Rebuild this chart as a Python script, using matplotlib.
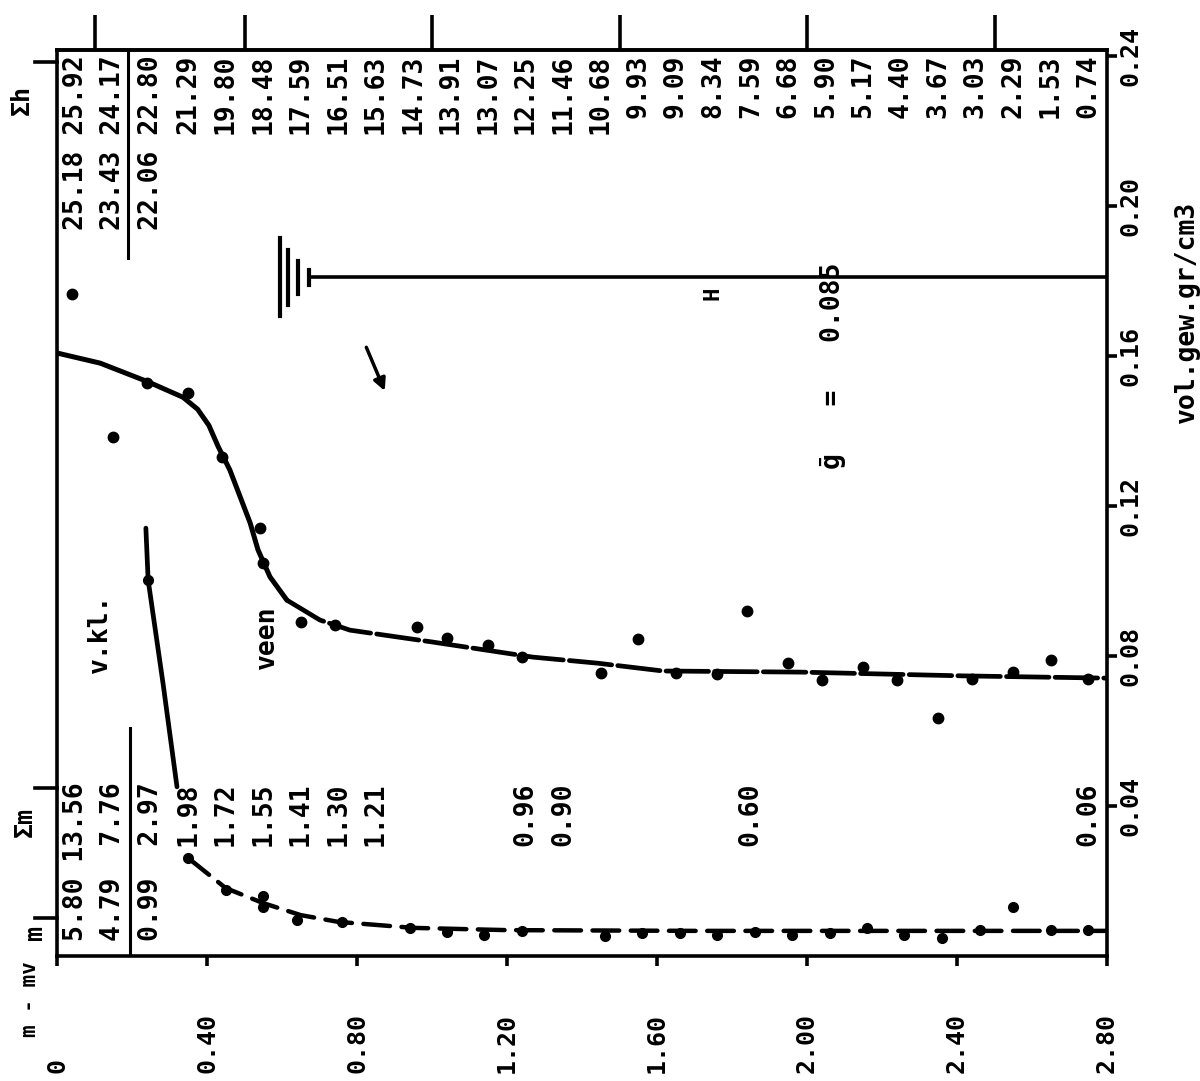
import numpy as np
import matplotlib
matplotlib.use("Agg")
import matplotlib.pyplot as plt

# ---------------- data ----------------
# veen (peat) measured points: depth (m - mv) and vol.gew (gr/cm3)
veen_depth = [0.04, 0.15, 0.24, 0.35, 0.44, 0.54, 0.55, 0.65, 0.74, 0.96, 1.04,
              1.15, 1.24, 1.45, 1.55, 1.65, 1.76, 1.84, 1.95, 2.04, 2.15, 2.24,
              2.35, 2.44, 2.55, 2.65, 2.75]
veen_gew = [0.1765, 0.1384, 0.1528, 0.1501, 0.1331, 0.1141, 0.1048, 0.0891,
            0.0883, 0.0877, 0.0848, 0.0829, 0.0797, 0.0755, 0.0845, 0.0755,
            0.0752, 0.0920, 0.0781, 0.0736, 0.0771, 0.0736, 0.0635, 0.0739,
            0.0757, 0.0789, 0.0739]
# hand-drawn curve through the veen points
veen_fit_depth = [0.0, 0.115, 0.243, 0.336, 0.375, 0.405, 0.430, 0.461, 0.515,
                  0.536, 0.568, 0.613, 0.701, 0.781, 1.003, 1.269, 1.44, 1.616,
                  1.984, 2.416, 2.80]
veen_fit_gew = [0.1608, 0.1581, 0.1531, 0.1490, 0.1458, 0.1415, 0.1358, 0.1296,
                0.1155, 0.1083, 0.1011, 0.0949, 0.0896, 0.0869, 0.0837, 0.0797,
                0.0781, 0.0760, 0.0757, 0.0747, 0.0741]
# v.kl. (clay) line
vkl_depth = [0.237, 0.243, 0.283, 0.320]
vkl_gew = [0.1141, 0.1003, 0.0725, 0.0451]
vkl_pt_depth = [0.243]
vkl_pt_gew = [0.1003]
# mineral part (lower dash-dot curve)
min_depth = [0.35, 0.45, 0.55, 0.55, 0.64, 0.76, 0.94, 1.04, 1.14, 1.24, 1.46,
             1.56, 1.66, 1.76, 1.86, 1.96, 2.06, 2.16, 2.26, 2.36, 2.46, 2.55,
             2.65, 2.75]
min_gew = [0.0261, 0.0176, 0.0160, 0.0131, 0.0096, 0.0091, 0.0075, 0.0064,
           0.0056, 0.0067, 0.0053, 0.0061, 0.0061, 0.0056, 0.0064, 0.0056,
           0.0061, 0.0075, 0.0056, 0.0048, 0.0069, 0.0131, 0.0069, 0.0069]
min_fit_depth = [0.35, 0.45, 0.55, 0.65, 0.75, 0.95, 1.20, 1.70, 2.80]
min_fit_gew = [0.0261, 0.0181, 0.0141, 0.0109, 0.0091, 0.0075, 0.0069, 0.0067, 0.0067]

# table columns (depth of each layer centre)
col_depth = [0.05, 0.15, 0.25, 0.35, 0.45, 0.55, 0.65, 0.75, 0.85, 0.95, 1.05,
             1.15, 1.25, 1.35, 1.45, 1.55, 1.65, 1.75, 1.85, 1.95, 2.05, 2.15,
             2.25, 2.35, 2.45, 2.55, 2.65, 2.75]
sum_h = ["25.92", "24.17", "22.80", "21.29", "19.80", "18.48", "17.59", "16.51",
         "15.63", "14.73", "13.91", "13.07", "12.25", "11.46", "10.68", "9.93",
         "9.09", "8.34", "7.59", "6.68", "5.90", "5.17", "4.40", "3.67", "3.03",
         "2.29", "1.53", "0.74"]
h_vals = ["25.18", "23.43", "22.06"]
sum_m_depth = [0.05, 0.15, 0.25, 0.35, 0.45, 0.55, 0.65, 0.75, 0.85, 1.25, 1.35,
               1.85, 2.75]
sum_m = ["13.56", "7.76", "2.97", "1.98", "1.72", "1.55", "1.41", "1.30", "1.21",
         "0.96", "0.90", "0.60", "0.06"]
m_vals = ["5.80", "4.79", "0.99"]

x_ticks = [0.0, 0.4, 0.8, 1.2, 1.6, 2.0, 2.4, 2.8]
x_ticklabels = ["0", "0.40", "0.80", "1.20", "1.60", "2.00", "2.40", "2.80"]
y_ticks = [0.04, 0.08, 0.12, 0.16, 0.20, 0.24]
y_ticklabels = ["0.04", "0.08", "0.12", "0.16", "0.20", "0.24"]
top_ticks = [0.1, 0.5, 1.0, 1.5, 2.0, 2.5]
left_marks = [0.2384, 0.0448, 0.0101]
left_mark_labels = ["Σh", "Σm", "m"]

mean_text = "ḡ   =   0.085"
H_level = 0.181
H_start = 0.672

# ---------------- figure ----------------
plt.rcParams["font.family"] = ["DejaVu Sans Mono", "DejaVu Sans"]
plt.rcParams["font.weight"] = "bold"
K = "black"
LW = 2.6

fig = plt.figure(figsize=(12, 10.81), dpi=100)
W, Hpx = 1200, 1081
ax = fig.add_axes([57 / W, (Hpx - 956) / Hpx, 1050 / W, 906 / Hpx])
ax.set_xlim(0, 2.8)
ax.set_ylim(0, 906 / 3750)
for s in ax.spines.values():
    s.set_linewidth(LW)
    s.set_color(K)

# bottom ticks (labels drawn as rotated text)
ax.set_xticks(x_ticks)
ax.set_xticklabels([])
ax.tick_params(axis="x", direction="out", length=7, width=LW, bottom=True, top=False)
xtr = ax.get_xaxis_transform()
for xv, lab in zip(x_ticks, x_ticklabels):
    ax.text(xv, -117 / 906, lab, transform=xtr, rotation=90, rotation_mode="anchor",
            ha="left", va="center", fontsize=18)
ax.text(-0.072, -81 / 906, "m - mv", transform=xtr, rotation=90, rotation_mode="anchor",
        ha="left", va="center", fontsize=15)

# right axis
ax.yaxis.set_ticks_position("right")
ax.set_yticks(y_ticks)
ax.set_yticklabels(y_ticklabels)
ax.tick_params(axis="y", direction="out", length=7, width=LW, pad=1, labelsize=18,
               right=True, left=False, labelright=True, labelleft=False)
for lab in ax.get_yticklabels():
    lab.set_rotation(90)
    lab.set_va("center")
    lab.set_ha("left")
ax.text((1187 - 57) / 1050, (956 - 312) / 906, "vol.gew.gr/cm3", transform=ax.transAxes,
        rotation=90, ha="center", va="center", fontsize=19)

# top ticks
sec = ax.secondary_xaxis("top")
sec.set_xticks(top_ticks)
sec.tick_params(axis="x", direction="out", length=25, width=LW, labeltop=False)
sec.spines["top"].set_linewidth(LW)

# left marks (Σh, Σm, m)
ytr = ax.get_yaxis_transform()
for yv in left_marks:
    ax.plot([-22 / 1050, 0], [yv, yv], transform=ytr, color=K, lw=LW, clip_on=False)
lab_pos = [((22 - 57) / 1050, 0.2283), ((25 - 57) / 1050, 0.0357), ((35 - 57) / 1050, 0.0064)]
for (xa, yv), lab in zip(lab_pos, left_mark_labels):
    ax.text(xa, yv, lab, transform=ytr, rotation=90, ha="center", va="center", fontsize=18)

# table values
sh_top = (956 - 55) / 3750
sm_top = (956 - 782) / 3750
for i, (d, s) in enumerate(zip(col_depth, sum_h)):
    txt = f"{h_vals[i]} {s}" if i < len(h_vals) else s
    ax.text(d, sh_top, txt, rotation=90, rotation_mode="anchor", ha="right",
            va="center", fontsize=19)
for i, (d, s) in enumerate(zip(sum_m_depth, sum_m)):
    txt = f"{m_vals[i]} {s:>5}" if i < len(m_vals) else s
    ax.text(d, sm_top, txt, rotation=90, rotation_mode="anchor", ha="right",
            va="center", fontsize=19)
# table separator lines
ax.plot([0.19, 0.19], [906 / 3750, (956 - 258) / 3750], color=K, lw=LW - 0.4)
ax.plot([0.195, 0.195], [(956 - 728) / 3750, 0], color=K, lw=LW - 0.4)

# ---------------- curves ----------------
vfd = np.array(veen_fit_depth)
vfg = np.array(veen_fit_gew)
solid = vfd <= 0.62
ax.plot(vfd[solid], vfg[solid], color=K, lw=3.6, solid_capstyle="round",
        solid_joinstyle="round")
ax.plot(vfd[vfd >= 0.613], vfg[vfd >= 0.613], color=K, lw=3.4,
        linestyle=(0, (9, 1.3)), dash_capstyle="round")
ax.plot(veen_depth, veen_gew, "o", color=K, ms=7.5)

ax.plot(vkl_depth, vkl_gew, color=K, lw=3.4, solid_capstyle="round")
ax.plot(vkl_pt_depth, vkl_pt_gew, "o", color=K, ms=7)

ax.plot(min_fit_depth, min_fit_gew, color=K, lw=3.2, linestyle=(0, (6, 2.6)),
        dash_capstyle="round")
ax.plot(min_depth, min_gew, "o", color=K, ms=7)

# ground water symbol and H line
ax.plot([H_start, 2.8], [H_level, H_level], color=K, lw=2.6)
for dx, hh in zip([0.077, 0.056, 0.029, 0.0], [0.0104, 0.0073, 0.0044, 0.0020]):
    ax.plot([H_start - dx, H_start - dx], [H_level - hh, H_level + hh], color=K, lw=3)

# annotations
ax.text(0.115, 0.0861, "v.kl.", rotation=90, ha="center", va="center", fontsize=19)
ax.text(0.56, 0.0851, "veen", rotation=90, ha="center", va="center", fontsize=19)
ax.text(1.747, 0.1768, "H", rotation=90, ha="center", va="center", fontsize=16)
ax.text(2.069, 0.1573, mean_text, rotation=90, ha="center", va="center", fontsize=19)
ax.annotate("", xy=(0.877, 0.1500), xytext=(0.822, 0.1630),
            arrowprops=dict(arrowstyle="-|>", color=K, lw=2.5, mutation_scale=18))

fig.savefig("out.png", dpi=100, facecolor="white")
